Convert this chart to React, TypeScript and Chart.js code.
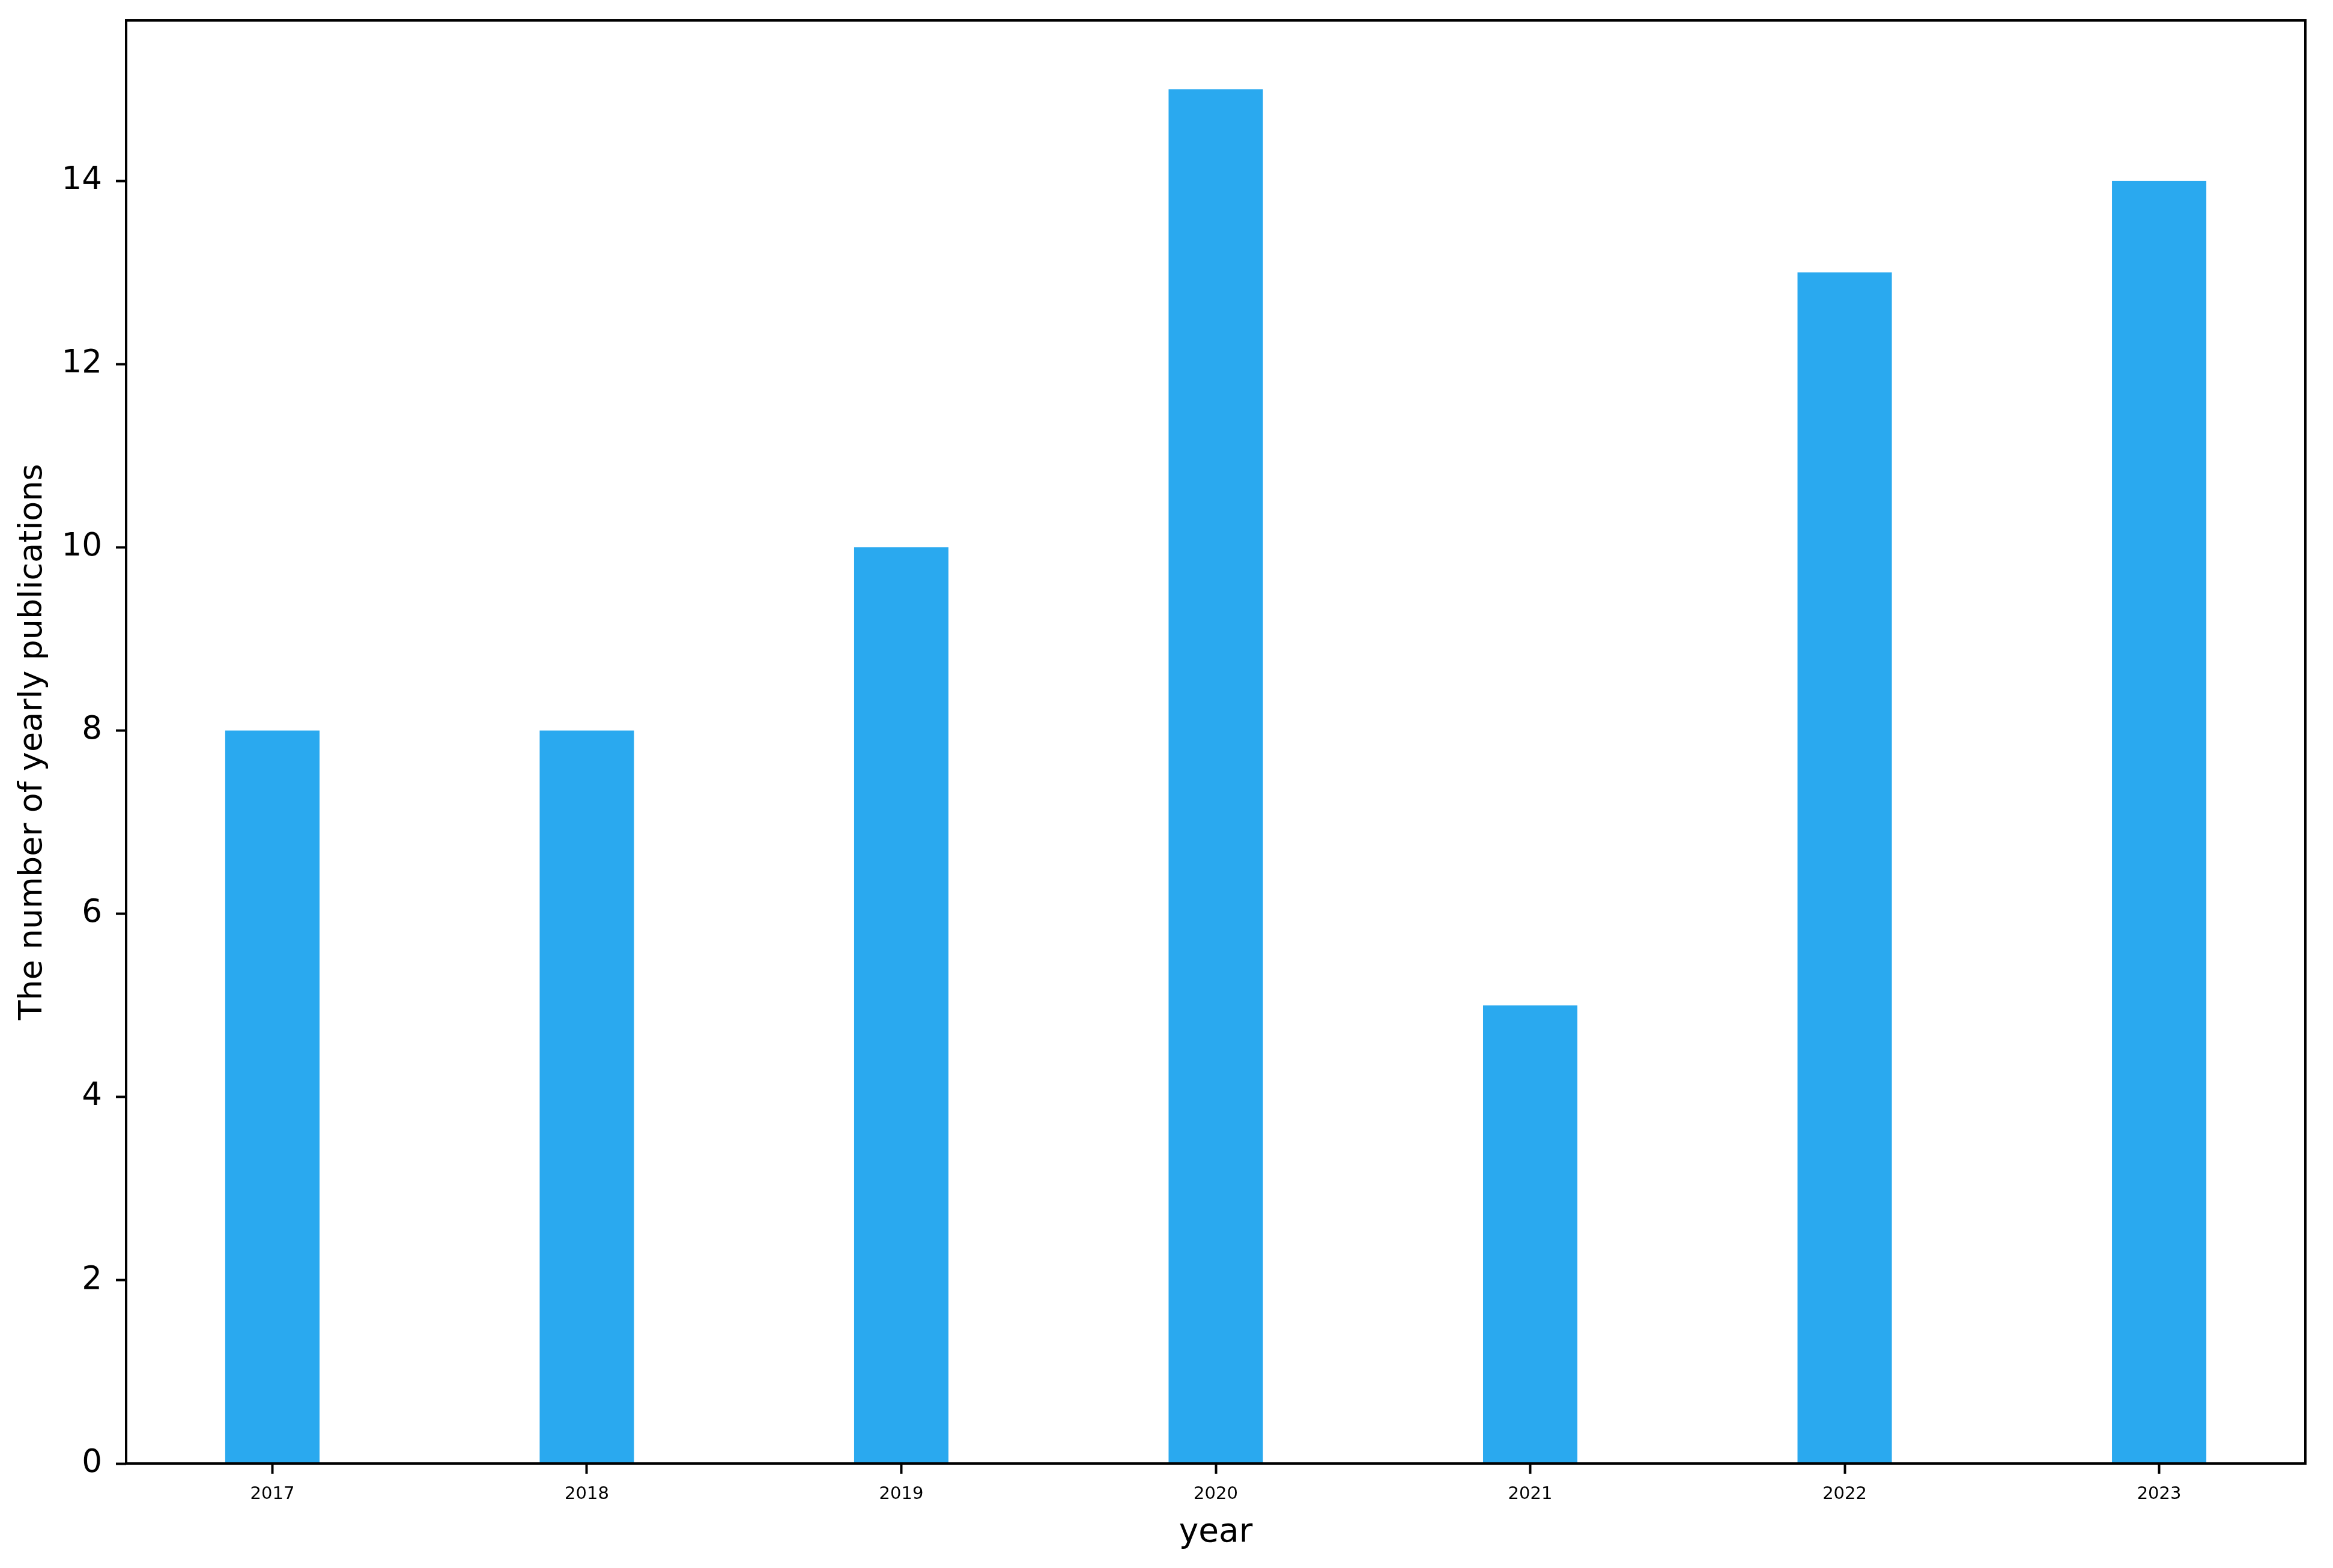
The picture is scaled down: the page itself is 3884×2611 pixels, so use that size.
import React, { useEffect, useRef } from "react";
import { Chart, registerables } from "chart.js";

Chart.register(...registerables);

const years: string[] = ["2017", "2018", "2019", "2020", "2021", "2022", "2023"];
const publications: number[] = [8, 8, 10, 15, 5, 13, 14];
const yTickStep = 2;
const yMax = 15.75;
const xTitle = "year";
const yTitle = "The number of yearly publications";

const W = 3884;
const H = 2611;

export default function App() {
  const ref = useRef<HTMLCanvasElement | null>(null);

  useEffect(() => {
    if (!ref.current) return;
    const frame = {
      id: "frame",
      afterDraw(chart: any) {
        const { ctx, chartArea } = chart;
        ctx.save();
        ctx.strokeStyle = "#000";
        ctx.lineWidth = 4;
        ctx.strokeRect(chartArea.left, chartArea.top, chartArea.right - chartArea.left, chartArea.bottom - chartArea.top);
        ctx.restore();
      },
    };
    const chart = new Chart(ref.current, {
      type: "bar",
      data: {
        datasets: [
          {
            data: publications.map((v, i) => ({ x: i, y: v })),
            backgroundColor: "#2aa9ef",
            borderWidth: 0,
            barPercentage: 0.3,
            categoryPercentage: 1.0,
          },
        ],
      },
      options: {
        responsive: false,
        animation: false,
        devicePixelRatio: 1,
        layout: { padding: { top: 34, right: 46, left: 0, bottom: 0 } },
        plugins: { legend: { display: false }, tooltip: { enabled: false } },
        scales: {
          x: {
            type: "linear",
            min: -0.465,
            max: years.length - 1 + 0.465,
            offset: false,
            border: { display: false },
            grid: { offset: false, drawOnChartArea: false, drawTicks: true, tickLength: 17, tickColor: "#000", tickWidth: 4 },
            ticks: {
              stepSize: 1,
              includeBounds: false,
              autoSkip: false,
              maxRotation: 0,
              padding: 17,
              color: "#000",
              font: { family: "DejaVu Sans", size: 29 },
              callback: (v: any) => years[v as number] ?? "",
            },
            title: {
              display: true,
              text: xTitle,
              color: "#000",
              font: { family: "DejaVu Sans", size: 55 },
              padding: { top: 0, bottom: 25 },
            },
            afterFit: (s: any) => {
              s.height = 174;
              s.paddingLeft = 0;
              s.paddingRight = 0;
            },
          },
          y: {
            type: "linear",
            min: 0,
            max: yMax,
            border: { display: false },
            grid: { drawOnChartArea: false, drawTicks: true, tickLength: 17, tickColor: "#000", tickWidth: 4 },
            ticks: {
              stepSize: yTickStep,
              includeBounds: false,
              padding: 23,
              color: "#000",
              font: { family: "DejaVu Sans", size: 53 },
            },
            title: {
              display: true,
              text: yTitle,
              color: "#000",
              font: { family: "DejaVu Sans", size: 54 },
              padding: { top: 23, bottom: 0 },
            },
            afterFit: (s: any) => {
              s.width = 210;
              s.paddingTop = 0;
              s.paddingBottom = 0;
            },
          },
        },
      },
      plugins: [frame],
    } as any);
    return () => chart.destroy();
  }, []);

  return (
    <div style={{ position: "absolute", left: 0, top: 0, width: W, height: H, background: "#fff" }}>
      <canvas ref={ref} width={W} height={H} style={{ width: W, height: H, display: "block" }} />
    </div>
  );
}
